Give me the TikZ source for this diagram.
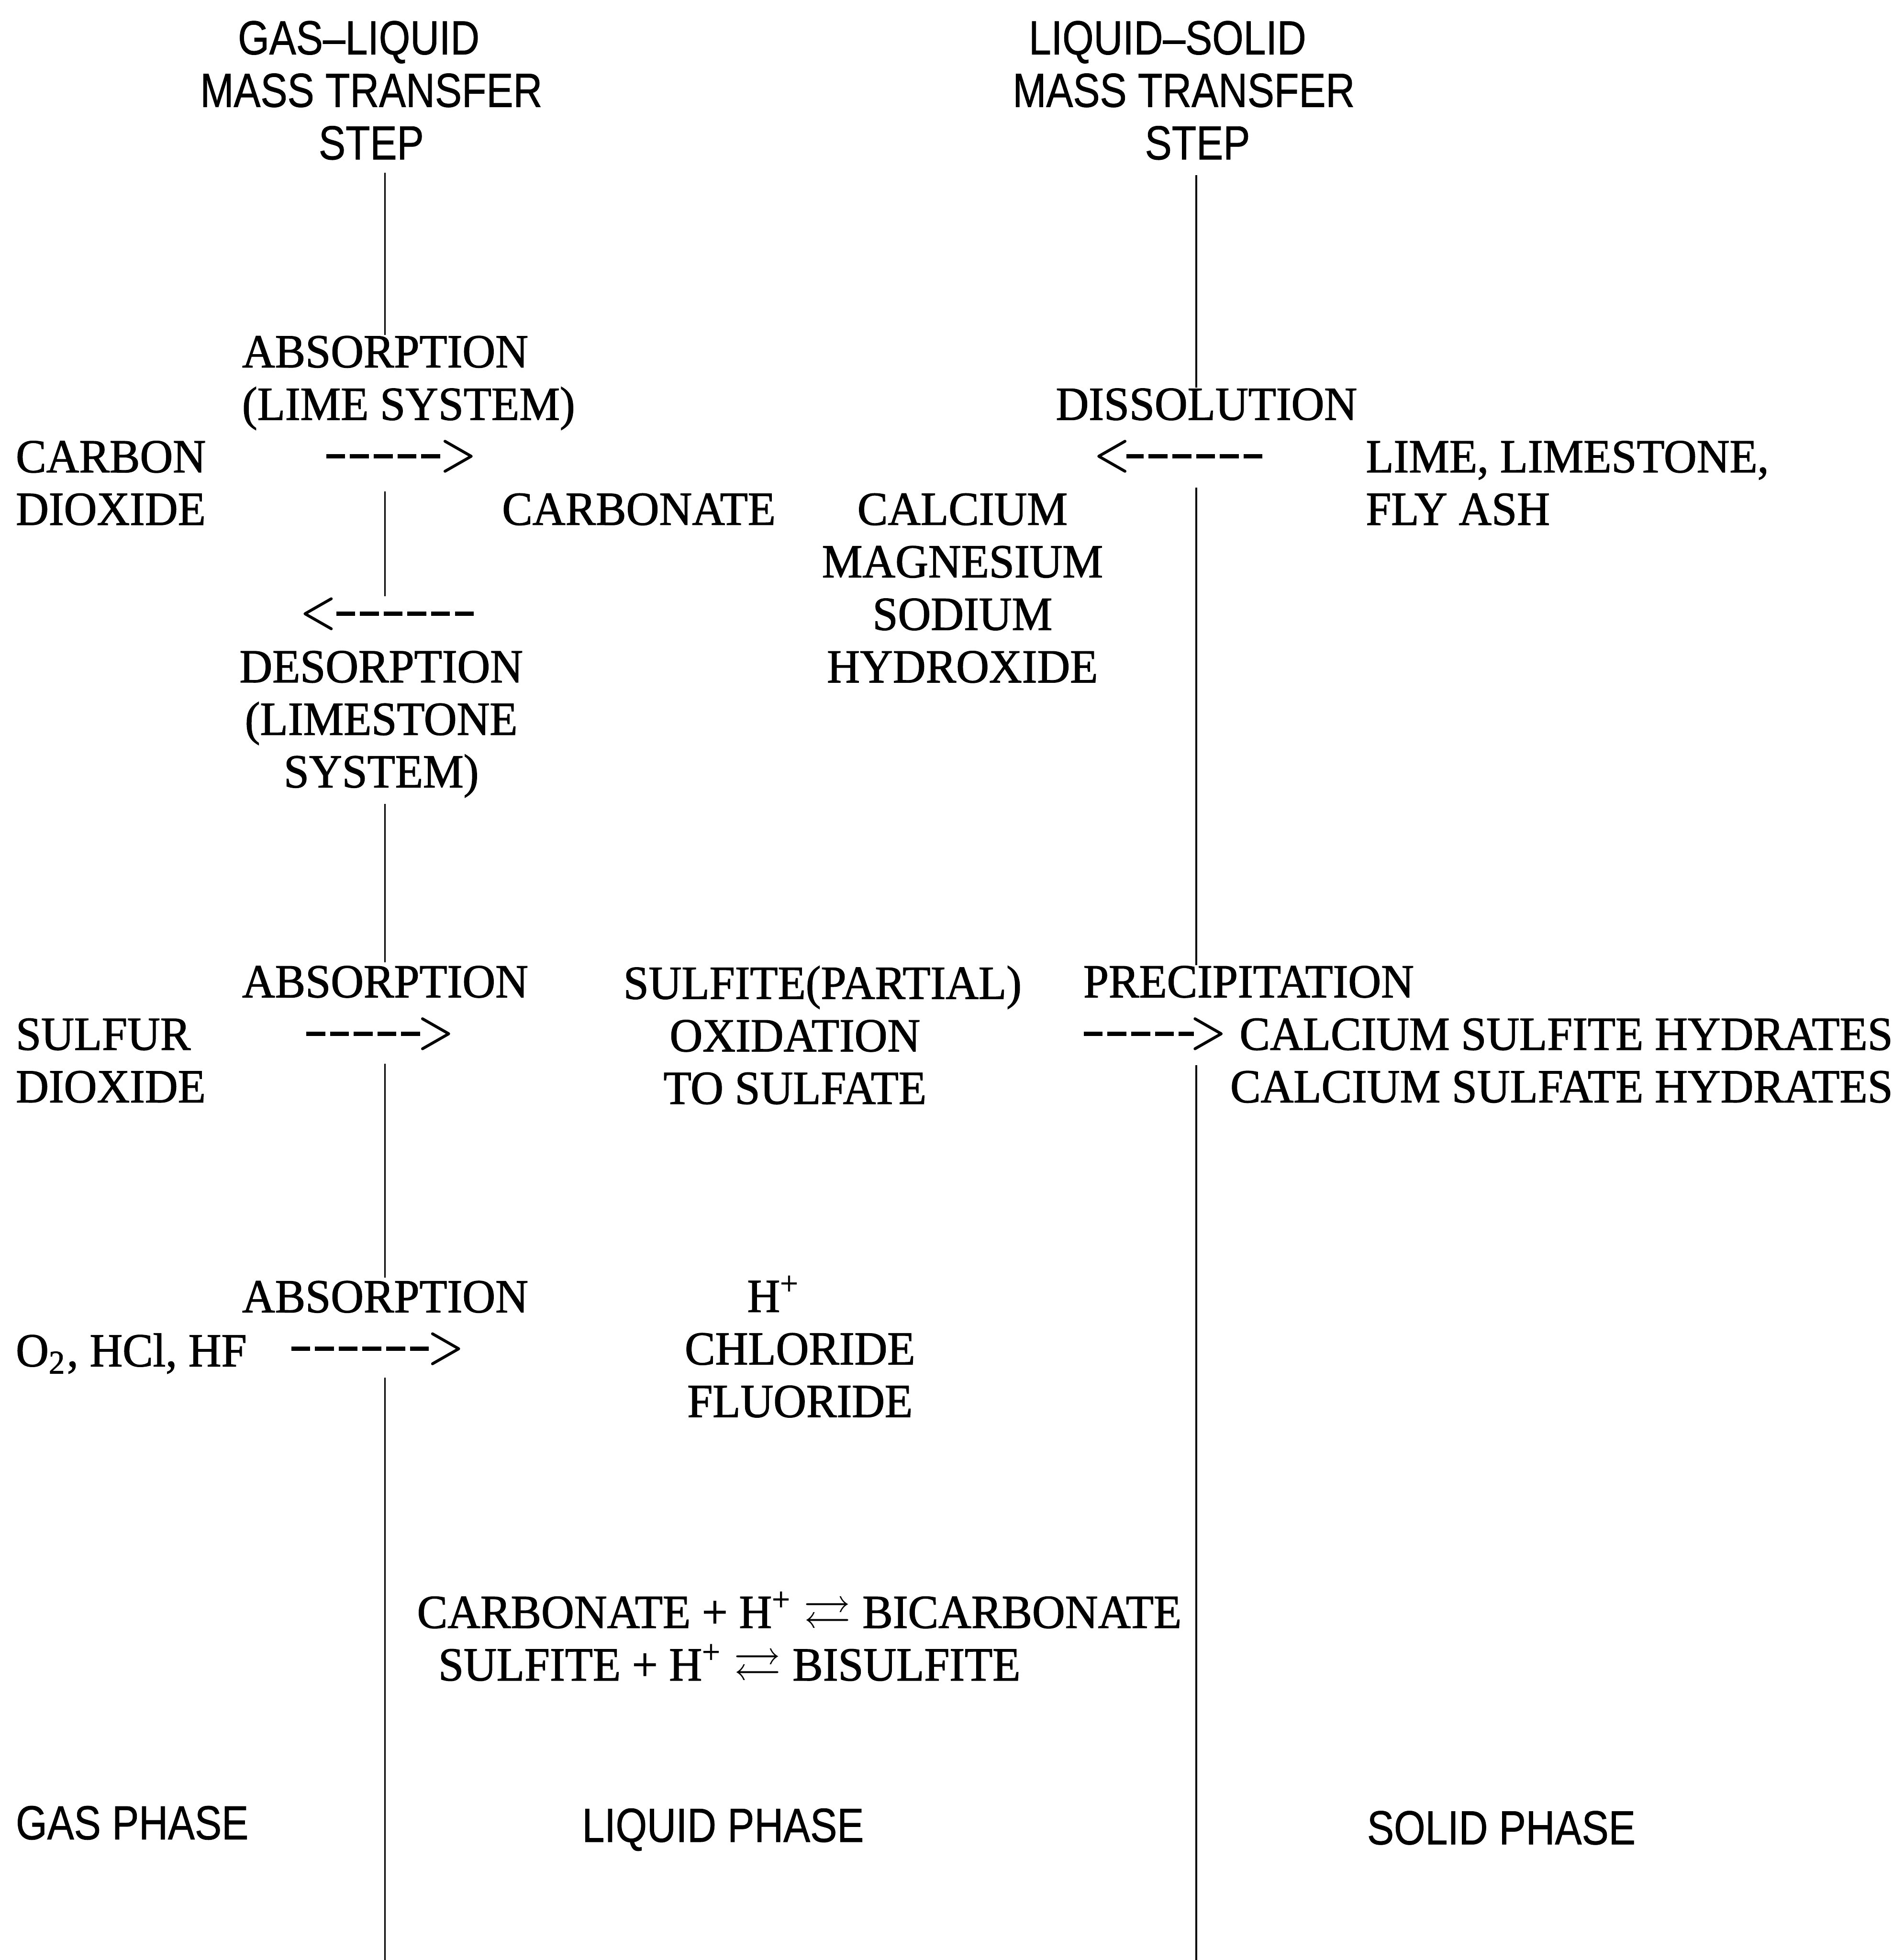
\documentclass[tikz,border=0pt]{standalone}
\usepackage{fontspec}
\usepackage{amssymb}
\newfontfamily\bodyfont[FakeStretch=0.96, FakeBold=1.3]{Liberation Serif}
\newfontfamily\headfont[FakeStretch=0.84, FakeBold=0.8]{Liberation Sans}

\begin{document}
\begin{tikzpicture}[x=0.01cm, y=-0.01cm,
  txt/.style={font=\bodyfont\fontsize{10.8}{11.95}\selectfont, inner sep=0pt,
              anchor=north west, align=left},
  mid/.style={txt, anchor=north, align=center},
  hd/.style={font=\headfont\fontsize{10.9}{11.95}\selectfont, inner sep=0pt,
             anchor=north, align=center},
  bound/.style={line width=0.4pt},
  shaft/.style={line width=0.95pt, dash pattern=on 4.3pt off 1.1pt},
  head/.style={line width=0.65pt, line join=round, line cap=round}
]
  \useasboundingbox (0,0) rectangle (1523,1568);

  %% Column headings
  \node[hd] (glstep) at (297,16) {GAS\textendash LIQUID\hspace*{0.2cm}\\MASS TRANSFER\\STEP};
  \node[hd] (lsstep) at (947,16) {LIQUID\textendash SOLID\hspace*{0.26cm}\\MASS TRANSFER\\\hspace*{0.22cm}STEP};

  %% Carbon dioxide and alkali
  \node[txt] (abslime) at (193,268) {ABSORPTION\\(LIME SYSTEM)};
  \node[txt] (dissol)  at (844,310) {DISSOLUTION};
  \node[txt] (co2)     at (12,352)  {CARBON\\DIOXIDE};
  \node[txt] (alkali)  at (1092,352) {LIME, LIMESTONE,\\FLY ASH};
  \node[txt] (carb)    at (401,394) {CARBONATE};
  \node[mid] (cations) at (770,394) {CALCIUM\\MAGNESIUM\\SODIUM\\HYDROXIDE};
  \node[mid] (desorb)  at (305,520) {DESORPTION\\(LIMESTONE\\SYSTEM)};

  %% Sulfur dioxide
  \node[txt] (absso2) at (193,772) {ABSORPTION};
  \node[mid] (oxid)   at (636,772) {\hspace*{0.44cm}SULFITE(PARTIAL)\\OXIDATION\\TO SULFATE};
  \node[txt] (precip) at (866,772) {PRECIPITATION};
  \node[txt] (so2)    at (12,814)  {SULFUR\\DIOXIDE};
  \node[txt, anchor=north east, align=right] (hydr) at (1515,814)
    {CALCIUM SULFITE HYDRATES\\CALCIUM SULFATE HYDRATES};

  %% Acid gases
  \node[txt] (absacid) at (193,1024) {ABSORPTION};
  \node[txt] (acids)   at (12,1066)  {O\textsubscript{2}, HCl, HF};
  \node[mid] (halide)  at (640,1024) {H\smash{\textsuperscript{+}}\hspace*{0.42cm}\\CHLORIDE\\FLUORIDE};

  %% Liquid phase equilibria
  \node[txt] (equil) at (333,1276)
    {CARBONATE + H\smash{\textsuperscript{+}} $\rightleftarrows$ BICARBONATE\\
     \hspace*{0.17cm}SULFITE + H\smash{\textsuperscript{+}} $\rightleftarrows$ BISULFITE};

  %% Phase labels
  \node[hd, anchor=north west] (gasph) at (12,1444)   {GAS PHASE};
  \node[hd, anchor=north west] (liqph) at (465,1446)  {LIQUID PHASE};
  \node[hd, anchor=north west] (solph) at (1093,1448) {SOLID PHASE};

  %% Interfaces (broken where the text crosses)
  \foreach \a/\b in {138/268, 393/477, 643/770, 851/1022, 1102/1568}
    \draw[bound] (308,\a) -- (308,\b);
  \foreach \a/\b in {140/310, 390/772, 852/1568}
    \draw[bound] (957,\a) -- (957,\b);

  %% Transfer arrows
  \coordinate (co2a) at (261,365);  \coordinate (co2b) at (377,365);
  \coordinate (dsa)  at (1010,365); \coordinate (dsb)  at (879,365);
  \coordinate (dea)  at (379,491);  \coordinate (deb)  at (244,491);
  \coordinate (so2a) at (245,827);  \coordinate (so2b) at (359,827);
  \coordinate (ppa)  at (867,827);  \coordinate (ppb)  at (977,827);
  \coordinate (aca)  at (233,1079); \coordinate (acb)  at (367,1079);
  \foreach \f/\t/\s in {co2a/co2b/1, dsa/dsb/-1, dea/deb/-1, so2a/so2b/1, ppa/ppb/1, aca/acb/1} {
    \draw[shaft] (\f) -- ([shift={({-22*\s},0)}]\t);
    \draw[head] ([shift={({-21*\s},-12)}]\t) -- (\t) -- ([shift={({-21*\s},12)}]\t);
  }
\end{tikzpicture}
\end{document}
